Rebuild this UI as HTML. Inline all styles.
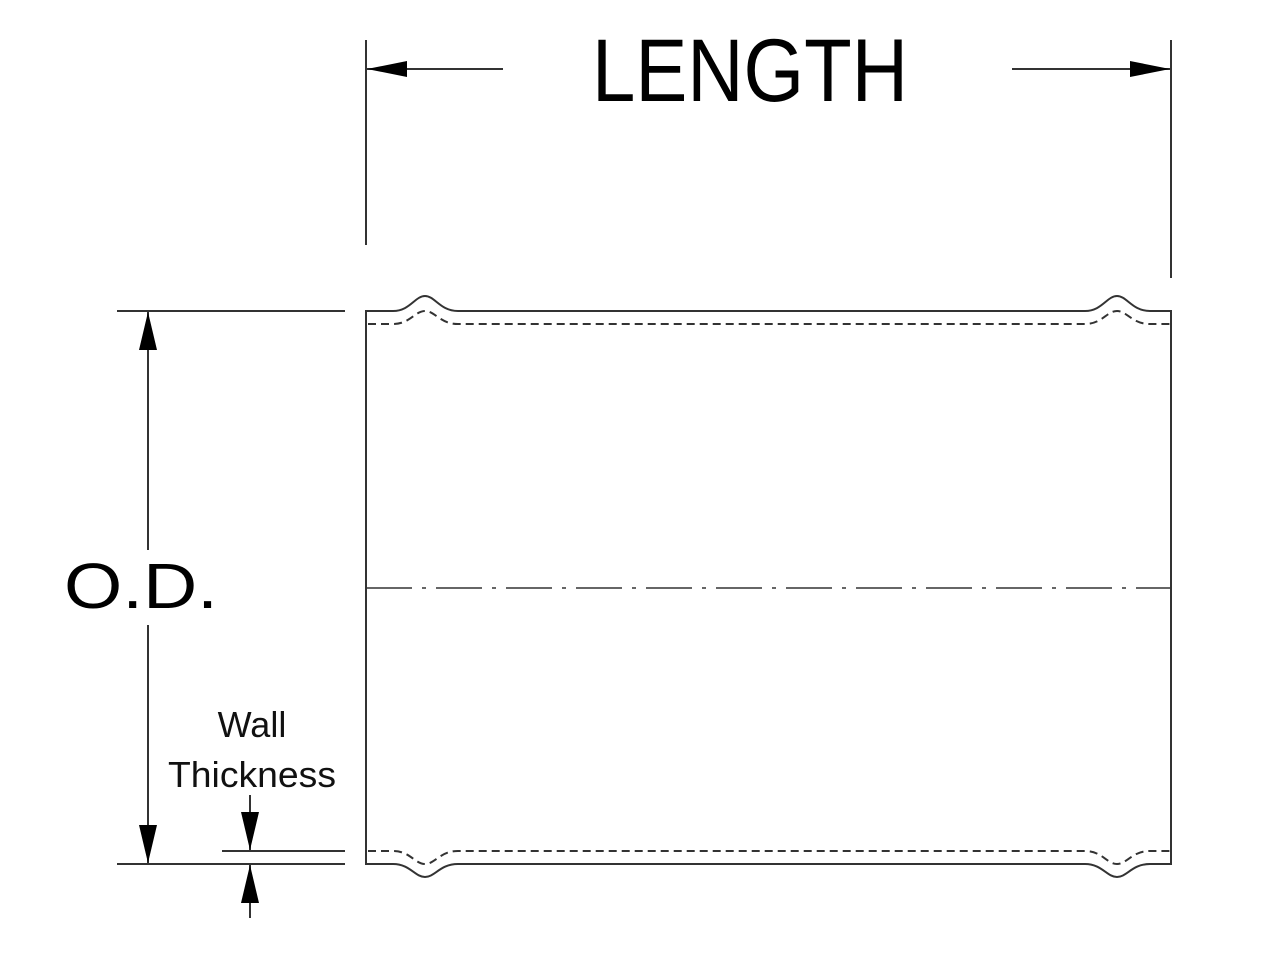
<!DOCTYPE html>
<html><head><style>body{margin:0;background:#fff}svg{display:block}</style></head>
<body>
<svg width="1279" height="960" viewBox="0 0 1279 960" xmlns="http://www.w3.org/2000/svg" font-family="Liberation Sans, sans-serif">
<g stroke="#333" stroke-width="2" fill="none">
<!-- length extension lines -->
<line x1="366" y1="40" x2="366" y2="245"/>
<line x1="1171" y1="40" x2="1171" y2="278"/>
<line x1="366" y1="69" x2="503" y2="69"/>
<line x1="1012" y1="69" x2="1171" y2="69"/>
<!-- tube -->
<path d="M366 864 L366 311 L393 311 C410 311 415 296 425 296 C435 296 440 311 458 311 L1085 311 C1102 311 1107 296 1117 296 C1127 296 1132 311 1150 311 L1171 311 L1171 864 L1150 864 C1132 864 1127 877 1117 877 C1107 877 1102 864 1085 864 L458 864 C440 864 435 877 425 877 C415 877 410 864 393 864 Z"/>
<path stroke-dasharray="8,5" d="M368 324 L393 324 C410 324 415 311 425 311 C435 311 440 324 458 324 L1085 324 C1102 324 1107 311 1117 311 C1127 311 1132 324 1150 324 L1171 324"/>
<path stroke-dasharray="8,5" d="M368 851 L393 851 C410 851 415 864 425 864 C435 864 440 851 458 851 L1085 851 C1102 851 1107 864 1117 864 C1127 864 1132 851 1150 851 L1171 851"/>
<line x1="366" y1="588" x2="1171" y2="588" stroke-dasharray="46,10,4,10" stroke-width="1.6"/>
<!-- OD -->
<line x1="117" y1="311" x2="345" y2="311"/>
<line x1="117" y1="864" x2="345" y2="864"/>
<line x1="222" y1="851" x2="345" y2="851"/>
<line x1="148" y1="311" x2="148" y2="550"/>
<line x1="148" y1="625" x2="148" y2="864"/>
<line x1="250" y1="795" x2="250" y2="851"/>
<line x1="250" y1="864" x2="250" y2="918"/>
</g>
<g fill="#000">
<polygon points="367,69 407,61 407,77"/>
<polygon points="1170,69 1130,61 1130,77"/>
<polygon points="148,312 139,350 157,350"/>
<polygon points="148,863 139,825 157,825"/>
<polygon points="250,850 241,812 259,812"/>
<polygon points="250,865 241,903 259,903"/>
</g>
<text x="592" y="101" font-size="89" textLength="316" lengthAdjust="spacingAndGlyphs">LENGTH</text>
<text x="64" y="608" font-size="64" textLength="154" lengthAdjust="spacingAndGlyphs">O.D.</text>
<text x="252" y="737" font-size="36" text-anchor="middle" fill="#111">Wall</text>
<text x="252" y="787" font-size="36" text-anchor="middle" fill="#111" textLength="168" lengthAdjust="spacingAndGlyphs">Thickness</text>
</svg>
</body></html>
